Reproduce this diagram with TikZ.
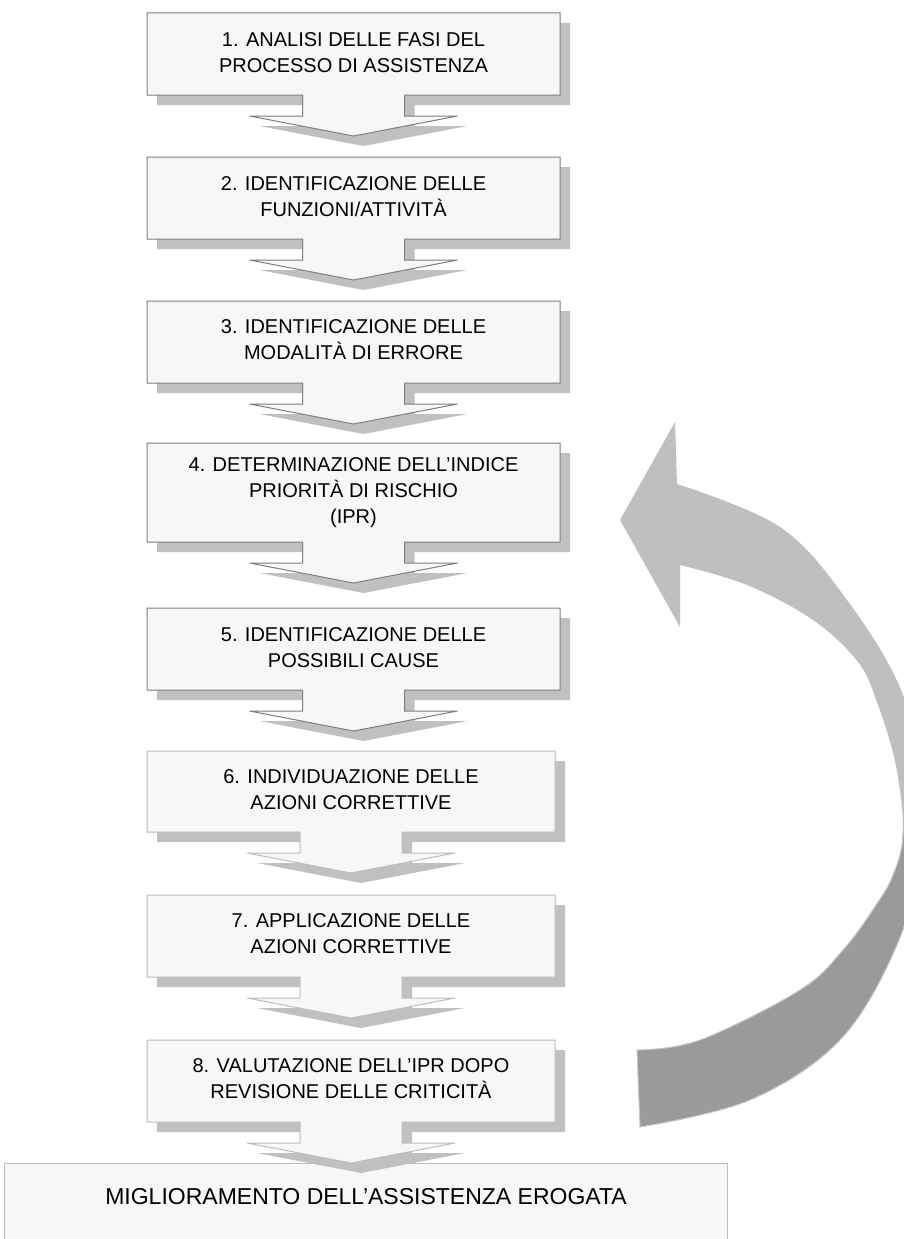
\documentclass[tikz,border=0pt]{standalone}
\usepackage{fontspec}
\setmainfont{Liberation Sans}
\definecolor{boxfill}{HTML}{F7F7F7}
\definecolor{darkedge}{HTML}{7F7F7F}
\definecolor{lightedge}{HTML}{BDBDBD}
\definecolor{shadowgray}{HTML}{C0C0C0}
\definecolor{arrowlight}{HTML}{BFBFBF}
\definecolor{arrowdark}{HTML}{9A9A9A}
\definecolor{arrowrim}{HTML}{C8C8C8}
\tikzset{
  steptext/.style={align=center, inner sep=0pt, text=black,
    font=\fontsize{20}{26}\selectfont},
  fintext/.style={align=center, inner sep=0pt, text=black,
    font=\fontsize{23}{28}\selectfont},
  boxshape/.style={fill=boxfill, line width=1pt},
}
% #1 L, #2 T, #3 R, #4 B, #5 arrow centre x, #6 edge colour
\newcommand\stepcallout[6]{%
  \fill[shadowgray, shift={(10,10)}] (#1,#2) -- (#3,#2) -- (#3,#4) -- ({#5+51},#4) -- ({#5+51},{#4+21}) -- ({#5+104},{#4+21}) -- (#5,{#4+41}) -- ({#5-104},{#4+21}) -- ({#5-51},{#4+21}) -- ({#5-51},#4) -- (#1,#4) -- cycle;
  \filldraw[boxshape, draw=#6] (#1,#2) -- (#3,#2) -- (#3,#4) -- ({#5+51},#4) -- ({#5+51},{#4+21}) -- ({#5+104},{#4+21}) -- (#5,{#4+41}) -- ({#5-104},{#4+21}) -- ({#5-51},{#4+21}) -- ({#5-51},#4) -- (#1,#4) -- cycle;
}
\newcommand\bigcurvedarrow[1]{%
  \path[#1] plot[smooth, tension=0.6] coordinates {(640,1127) (750,1100) (840,1040) (897,945) (918,860) (920,780) (901,690) (847,600) (780,527) (677,484)}
    -- (675,422) -- (620,520) -- (680,627) -- (680,565)
    -- plot[smooth, tension=0.6] coordinates {(680,565) (747,585) (813,620) (858,662) (878,705) (896,766) (903,833) (893,875) (874,908) (843,950) (800,990) (700,1040) (637,1050)}
    -- cycle;
}
\begin{document}
\begin{tikzpicture}[x=1pt, y=-1pt]
  \useasboundingbox (0,0) rectangle (904,1239);
  \fill[white] (0,0) rectangle (904,1239);
  \clip (0,0) rectangle (904,1239);

  % final box
  \filldraw[boxshape, draw=lightedge] (4,1163) rectangle (727,1260);
  \node[fintext] (fin) at (366,1197) {MIGLIORAMENTO DELL’ASSISTENZA EROGATA};

  % big curved return arrow
  \begin{scope}
    \clip (0,0) rectangle (904,830);
    \bigcurvedarrow{fill=arrowlight}
  \end{scope}
  \begin{scope}
    \clip (0,830) rectangle (904,1239);
    \bigcurvedarrow{fill=arrowdark, draw=arrowrim, line width=1pt}
  \end{scope}

  % steps
  \stepcallout{147}{13}{560}{95}{353.5}{darkedge}
  \node[steptext] (s1) at (353.5,53) {1. ANALISI DELLE FASI DEL\\PROCESSO DI ASSISTENZA};

  \stepcallout{147}{157}{560}{239}{353.5}{darkedge}
  \node[steptext] (s2) at (353.5,197) {2. IDENTIFICAZIONE DELLE\\FUNZIONI/ATTIVITÀ};

  \stepcallout{147}{301}{560}{383}{353.5}{darkedge}
  \node[steptext] (s3) at (353.5,340) {3. IDENTIFICAZIONE DELLE\\MODALITÀ DI ERRORE};

  \stepcallout{147}{443}{560}{542}{353.5}{darkedge}
  \node[steptext] (s4) at (353.5,493) {4. DETERMINAZIONE DELL’INDICE\\PRIORITÀ DI RISCHIO\\(IPR)};

  \stepcallout{147}{608}{560}{690}{353.5}{darkedge}
  \node[steptext] (s5) at (353.5,648) {5. IDENTIFICAZIONE DELLE\\POSSIBILI CAUSE};

  \stepcallout{147}{751}{555}{832}{351}{lightedge}
  \node[steptext] (s6) at (351,790) {6. INDIVIDUAZIONE DELLE\\AZIONI CORRETTIVE};

  \stepcallout{147}{895}{555}{977}{351}{lightedge}
  \node[steptext] (s7) at (351,934) {7. APPLICAZIONE DELLE\\AZIONI CORRETTIVE};

  \stepcallout{147}{1040}{555}{1122}{351}{lightedge}
  \node[steptext] (s8) at (351,1079) {8. VALUTAZIONE DELL’IPR DOPO\\REVISIONE DELLE CRITICITÀ};
\end{tikzpicture}
\end{document}
